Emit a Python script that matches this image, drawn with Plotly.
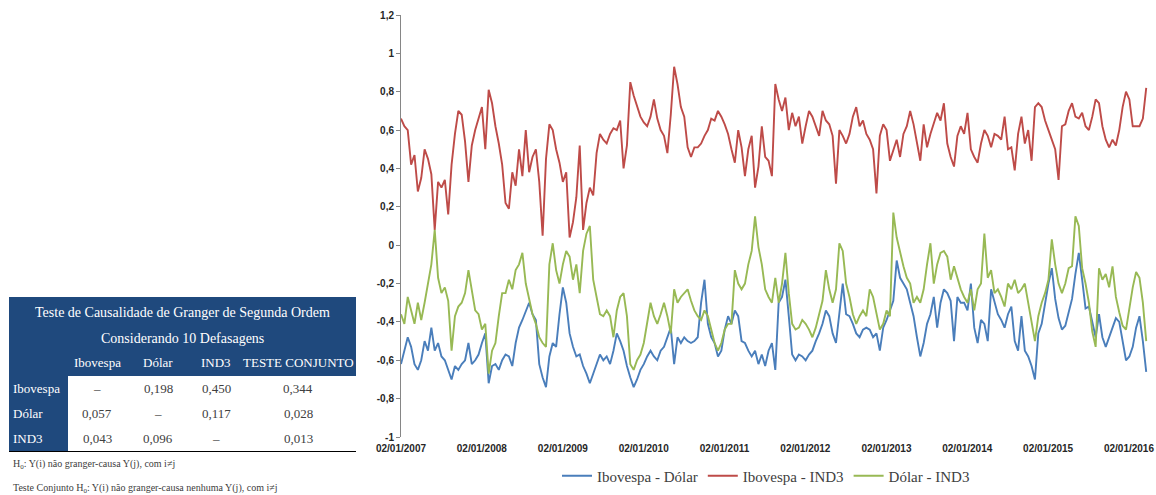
import plotly.graph_objects as go
import pandas as pd

# ---------------- data ----------------
dates = pd.date_range("2007-01-02", "2016-03-20", periods=222)

ibov_dolar = [
    -0.62, -0.55, -0.48, -0.53, -0.62, -0.65, -0.60, -0.50, -0.55, -0.43,
    -0.55, -0.51, -0.58, -0.60, -0.65, -0.70, -0.63, -0.65, -0.62, -0.60,
    -0.51, -0.62, -0.60, -0.57, -0.51, -0.46, -0.72, -0.63, -0.62, -0.65,
    -0.60, -0.57, -0.58, -0.63, -0.51, -0.43, -0.39, -0.34, -0.30, -0.36,
    -0.39, -0.62, -0.69, -0.74, -0.58, -0.51, -0.53, -0.36, -0.22, -0.30,
    -0.46, -0.53, -0.58, -0.57, -0.63, -0.67,
    -0.72, -0.67, -0.62, -0.57, -0.60, -0.58, -0.62, -0.55, -0.46, -0.50,
    -0.55, -0.63, -0.69, -0.74, -0.70, -0.65, -0.62, -0.58, -0.55, -0.58,
    -0.60, -0.55, -0.53, -0.48, -0.43, -0.62, -0.48, -0.51, -0.48, -0.50,
    -0.51, -0.50, -0.48, -0.30, -0.18, -0.41, -0.48, -0.51, -0.58, -0.55,
    -0.44, -0.37, -0.41, -0.34, -0.37, -0.50, -0.51, -0.55, -0.58, -0.55,
    -0.62, -0.57, -0.63, -0.55, -0.51,
    -0.65,
    -0.30, -0.27, -0.18, -0.37, -0.57, -0.60, -0.57, -0.58, -0.60, -0.57,
    -0.55, -0.50, -0.46, -0.41, -0.34, -0.37, -0.46, -0.51, -0.34, -0.20,
    -0.36, -0.37, -0.41, -0.46, -0.48, -0.44, -0.43, -0.44, -0.48, -0.46,
    -0.55, -0.43, -0.39, -0.34, -0.29, -0.08, -0.17, -0.20, -0.23, -0.30,
    -0.37, -0.48, -0.58, -0.51, -0.41, -0.36, -0.27, -0.43, -0.30, -0.23,
    -0.25, -0.29, -0.50, -0.27, -0.30,
    -0.30,
    -0.34, -0.20, -0.43, -0.51, -0.39, -0.41, -0.50, -0.23, -0.29, -0.36,
    -0.39, -0.43, -0.36, -0.32, -0.50, -0.55, -0.37, -0.55, -0.58, -0.63,
    -0.70, -0.46, -0.41, -0.30, -0.20, -0.12, -0.28, -0.38, -0.44, -0.42,
    -0.35, -0.28, -0.15, -0.04, -0.18, -0.33, -0.32, -0.40, -0.48, -0.36,
    -0.48, -0.53, -0.48, -0.42, -0.38, -0.40, -0.50, -0.60, -0.58, -0.53,
    -0.43, -0.37, -0.50, -0.66,
]

ibov_ind3 = [
    0.66, 0.62, 0.60, 0.42, 0.47, 0.28, 0.35, 0.50, 0.45, 0.37,
    0.08, 0.33, 0.30, 0.34, 0.16, 0.42, 0.58, 0.70, 0.68, 0.54,
    0.33, 0.52, 0.60, 0.66, 0.72, 0.50, 0.81, 0.74, 0.62, 0.53,
    0.42, 0.22, 0.19, 0.38, 0.31, 0.50, 0.36, 0.60, 0.38, 0.46,
    0.50, 0.33, 0.05, 0.45, 0.63, 0.60, 0.50, 0.43, 0.33, 0.38,
    0.04, 0.12, 0.25, 0.52, 0.08, 0.22,
    0.30, 0.26, 0.48, 0.58, 0.55, 0.53, 0.58, 0.61, 0.60, 0.65,
    0.40, 0.52, 0.85, 0.78, 0.72, 0.67, 0.64, 0.62, 0.67, 0.76,
    0.66, 0.60, 0.57, 0.48, 0.68, 0.93, 0.84, 0.72, 0.67, 0.51,
    0.46, 0.51, 0.51, 0.53, 0.57, 0.60, 0.66, 0.65, 0.70, 0.67,
    0.63, 0.58, 0.50, 0.43, 0.60, 0.51, 0.36, 0.50, 0.57, 0.30,
    0.41, 0.62, 0.46, 0.44, 0.36,
    0.84,
    0.76, 0.70, 0.77, 0.60, 0.69, 0.62, 0.67, 0.53, 0.62, 0.70,
    0.67, 0.62, 0.57, 0.70, 0.65, 0.63, 0.57, 0.32, 0.60, 0.57,
    0.53, 0.58, 0.67, 0.72, 0.62, 0.65, 0.58, 0.55, 0.50, 0.27,
    0.57, 0.63, 0.60, 0.44, 0.50, 0.55, 0.46, 0.58, 0.62, 0.70,
    0.63, 0.53, 0.44, 0.63, 0.51, 0.58, 0.63, 0.69, 0.65, 0.74,
    0.53, 0.46, 0.41, 0.57, 0.62, 0.58,
    0.69, 0.50, 0.46, 0.43, 0.53, 0.60, 0.57, 0.51, 0.58, 0.57,
    0.55, 0.67, 0.50, 0.51, 0.39, 0.58, 0.67, 0.53, 0.60, 0.44,
    0.72, 0.74, 0.72, 0.65, 0.60, 0.55, 0.50, 0.34, 0.62, 0.63,
    0.70, 0.74, 0.67, 0.66, 0.69, 0.62, 0.60, 0.67, 0.76, 0.74,
    0.62, 0.55, 0.51, 0.55, 0.52, 0.60, 0.72, 0.80, 0.76, 0.62,
    0.62, 0.62, 0.66, 0.82,
]

dolar_ind3 = [
    -0.36, -0.41, -0.27, -0.34, -0.41, -0.30, -0.39, -0.30, -0.20, -0.10,
    0.08, -0.17, -0.25, -0.22, -0.29, -0.55, -0.37, -0.32, -0.30, -0.25,
    -0.13, -0.23, -0.34, -0.36, -0.44, -0.41, -0.67, -0.55, -0.51, -0.37,
    -0.25, -0.25, -0.18, -0.23, -0.13, -0.10, -0.04, -0.20, -0.29, -0.36,
    -0.41, -0.48, -0.51, -0.53, -0.10, 0.01, -0.13, -0.20, -0.10, -0.03,
    -0.06, -0.18, -0.10, -0.25, -0.03, 0.06,
    0.10, -0.18, -0.27, -0.36, -0.37, -0.34, -0.37, -0.48, -0.34, -0.27,
    -0.25, -0.37, -0.62, -0.65, -0.60, -0.57, -0.51, -0.41, -0.30, -0.37,
    -0.41, -0.36, -0.30, -0.37, -0.46, -0.23, -0.30, -0.27, -0.25, -0.23,
    -0.29, -0.34, -0.37, -0.39, -0.34, -0.37, -0.44, -0.51, -0.55, -0.51,
    -0.44, -0.41, -0.41, -0.13, -0.20, -0.23, -0.20, -0.10, -0.03, 0.15,
    -0.01, -0.10, -0.23, -0.27, -0.30,
    -0.17,
    -0.30, -0.20, -0.04, -0.25, -0.41, -0.44, -0.43, -0.39, -0.41, -0.44,
    -0.48, -0.43, -0.36, -0.29, -0.13, -0.23, -0.30, -0.23, 0.01, -0.03,
    -0.20, -0.27, -0.36, -0.41, -0.37, -0.34, -0.37, -0.23, -0.27, -0.36,
    -0.44, -0.41, -0.34, -0.37, 0.17, 0.04, -0.04, -0.11, -0.17, -0.20,
    -0.30, -0.27, -0.30, -0.23, -0.10, 0.01, -0.20, -0.10, -0.04, -0.03,
    -0.06, -0.18, -0.11, -0.17, -0.23,
    -0.27,
    -0.30, -0.23, -0.34, -0.23, -0.20, 0.06, -0.17, -0.13, -0.25, -0.23,
    -0.27, -0.32, -0.20, -0.23, -0.18, -0.25, -0.23, -0.20, -0.30, -0.41,
    -0.50, -0.37, -0.30, -0.25, -0.18, 0.03, -0.10, -0.20, -0.25, -0.20,
    -0.12, -0.11, 0.15, 0.10, -0.12, -0.20, -0.30, -0.45, -0.53, -0.12,
    -0.18, -0.15, -0.22, -0.11, -0.27, -0.35, -0.42, -0.44, -0.33, -0.22,
    -0.14, -0.17, -0.30, -0.50,
]

series_names = ["Ibovespa - Dólar", "Ibovespa - IND3", "Dólar - IND3"]
series_colors = ["#4A7EBB", "#BE4B48", "#98B954"]

y_tickvals = [-1, -0.8, -0.6, -0.4, -0.2, 0, 0.2, 0.4, 0.6, 0.8, 1, 1.2]
y_ticktext = ["-1", "-0,8", "-0,6", "-0,4", "-0,2", "0", "0,2", "0,4", "0,6", "0,8", "1", "1,2"]
x_tickvals = ["2007-01-02", "2008-01-02", "2009-01-02", "2010-01-02", "2011-01-02",
              "2012-01-02", "2013-01-02", "2014-01-02", "2015-01-02", "2016-01-02"]
x_ticktext = ["02/01/2007", "02/01/2008", "02/01/2009", "02/01/2010", "02/01/2011",
              "02/01/2012", "02/01/2013", "02/01/2014", "02/01/2015", "02/01/2016"]

# table (Granger causality p-values)
table_title = "Teste de Causalidade de Granger de Segunda Ordem"
table_subtitle = "Considerando 10 Defasagens"
col_labels = ["Ibovespa", "Dólar", "IND3", "TESTE CONJUNTO"]
row_labels = ["Ibovespa", "Dólar", "IND3"]
pvalues = [
    ["–", "0,198", "0,450", "0,344"],
    ["0,057", "–", "0,117", "0,028"],
    ["0,043", "0,096", "–", "0,013"],
]
notes = [
    "H<sub>0</sub>: Y(i) não granger-causa Y(j), com i≠j",
    "Teste Conjunto H<sub>0</sub>: Y(i) não granger-causa nenhuma Y(j), com i≠j",
]

# ---------------- layout geometry (window pixels) ----------------
W, H = 1156, 495
def px(x):
    return x / W
def py(y):
    return 1 - y / H

plot_left, plot_right, plot_top, plot_bottom = 401, 1148, 15, 437
y_range = [-1, 1.2]
x_range = ["2007-01-02", "2016-03-28"]
xdom = [px(plot_left), px(plot_right)]
ydom = [py(plot_bottom), py(plot_top)]
zero_pos = ydom[0] + (0 - y_range[0]) / (y_range[1] - y_range[0]) * (ydom[1] - ydom[0])

axis_grey = "#868686"
tick_font = dict(family="Liberation Sans", size=10, color="#262626", weight="bold")

fig = go.Figure()
for vals, name, col in zip([ibov_dolar, ibov_ind3, dolar_ind3], series_names, series_colors):
    fig.add_trace(go.Scatter(x=dates, y=vals, mode="lines", name=name,
                             line=dict(color=col, width=1.9)))

fig.update_layout(
    width=W, height=H,
    margin=dict(l=0, r=0, t=0, b=0, autoexpand=False),
    paper_bgcolor="white", plot_bgcolor="white",
    showlegend=True,
    legend=dict(orientation="h", x=px(766), xanchor="center", y=py(476), yanchor="middle",
                font=dict(family="Liberation Serif", size=15, color="#404040"),
                itemwidth=30, bgcolor="rgba(0,0,0,0)"),
    xaxis=dict(domain=xdom, range=x_range, type="date", showgrid=False, zeroline=False,
               showline=False, ticks="", tickvals=x_tickvals, ticktext=x_ticktext,
               tickfont=tick_font, ticklabelstandoff=4),
    xaxis2=dict(overlaying="x", anchor="free", position=zero_pos, range=x_range, type="date",
                showgrid=False, zeroline=False, showline=True, linecolor=axis_grey, linewidth=1,
                ticks="outside", ticklen=4, tickcolor=axis_grey, tickvals=x_tickvals,
                showticklabels=False, layer="below traces"),
    yaxis=dict(domain=ydom, range=y_range, showgrid=False, zeroline=False, showline=True,
               linecolor=axis_grey, linewidth=1, ticks="outside", ticklen=4, tickcolor=axis_grey,
               tickvals=y_tickvals, ticktext=y_ticktext, tickfont=tick_font),
)

# ---------------- table drawn with shapes + annotations ----------------
header_blue = "#1F497D"
t_left, t_right, t_top, t_hdr_bottom = 9, 356, 297, 376
row_h = 25
label_right = 68
col_centers = [97, 158, 216, 298]
hdr_rows_y = [312, 338, 362]
body_rows_y = [t_hdr_bottom + row_h * (i + 0.5) for i in range(len(row_labels))]
t_bottom = t_hdr_bottom + row_h * len(row_labels)

fig.add_shape(type="rect", xref="paper", yref="paper", x0=px(t_left), x1=px(t_right),
              y0=py(t_hdr_bottom), y1=py(t_top), fillcolor=header_blue, line=dict(width=0), layer="below")
fig.add_shape(type="rect", xref="paper", yref="paper", x0=px(t_left), x1=px(label_right),
              y0=py(t_bottom), y1=py(t_hdr_bottom), fillcolor=header_blue, line=dict(width=0), layer="below")
fig.add_shape(type="line", xref="paper", yref="paper", x0=px(t_left), x1=px(t_right),
              y0=py(t_bottom + 0.5), y1=py(t_bottom + 0.5), line=dict(color="#000000", width=1.2))

serif = "Liberation Serif"
def ann(text, x, y, color, size, xanchor="center"):
    fig.add_annotation(text=text, x=px(x), y=py(y), xref="paper", yref="paper",
                       xanchor=xanchor, yanchor="middle", showarrow=False,
                       font=dict(family=serif, size=size, color=color))

ann(table_title, (t_left + t_right) / 2, hdr_rows_y[0], "white", 14)
ann(table_subtitle, (t_left + t_right) / 2, hdr_rows_y[1], "white", 14)
for c, lab in zip(col_centers, col_labels):
    ann(lab, c, hdr_rows_y[2], "white", 13)
for yy, lab, row in zip(body_rows_y, row_labels, pvalues):
    ann(lab, 11, yy, "white", 13, xanchor="left")
    for c, v in zip(col_centers, row):
        ann(v, c, yy, "#404040", 13)
ann(notes[0], 11, 464, "#404040", 10, xanchor="left")
ann(notes[1], 11, 488, "#404040", 10, xanchor="left")

# remove the browser's default 8 px body margin so the figure fills the window exactly
fig.write_html("out.html",
               config={"displayModeBar": False},
               post_script="document.body.style.margin='0px';document.body.style.overflow='hidden';")
